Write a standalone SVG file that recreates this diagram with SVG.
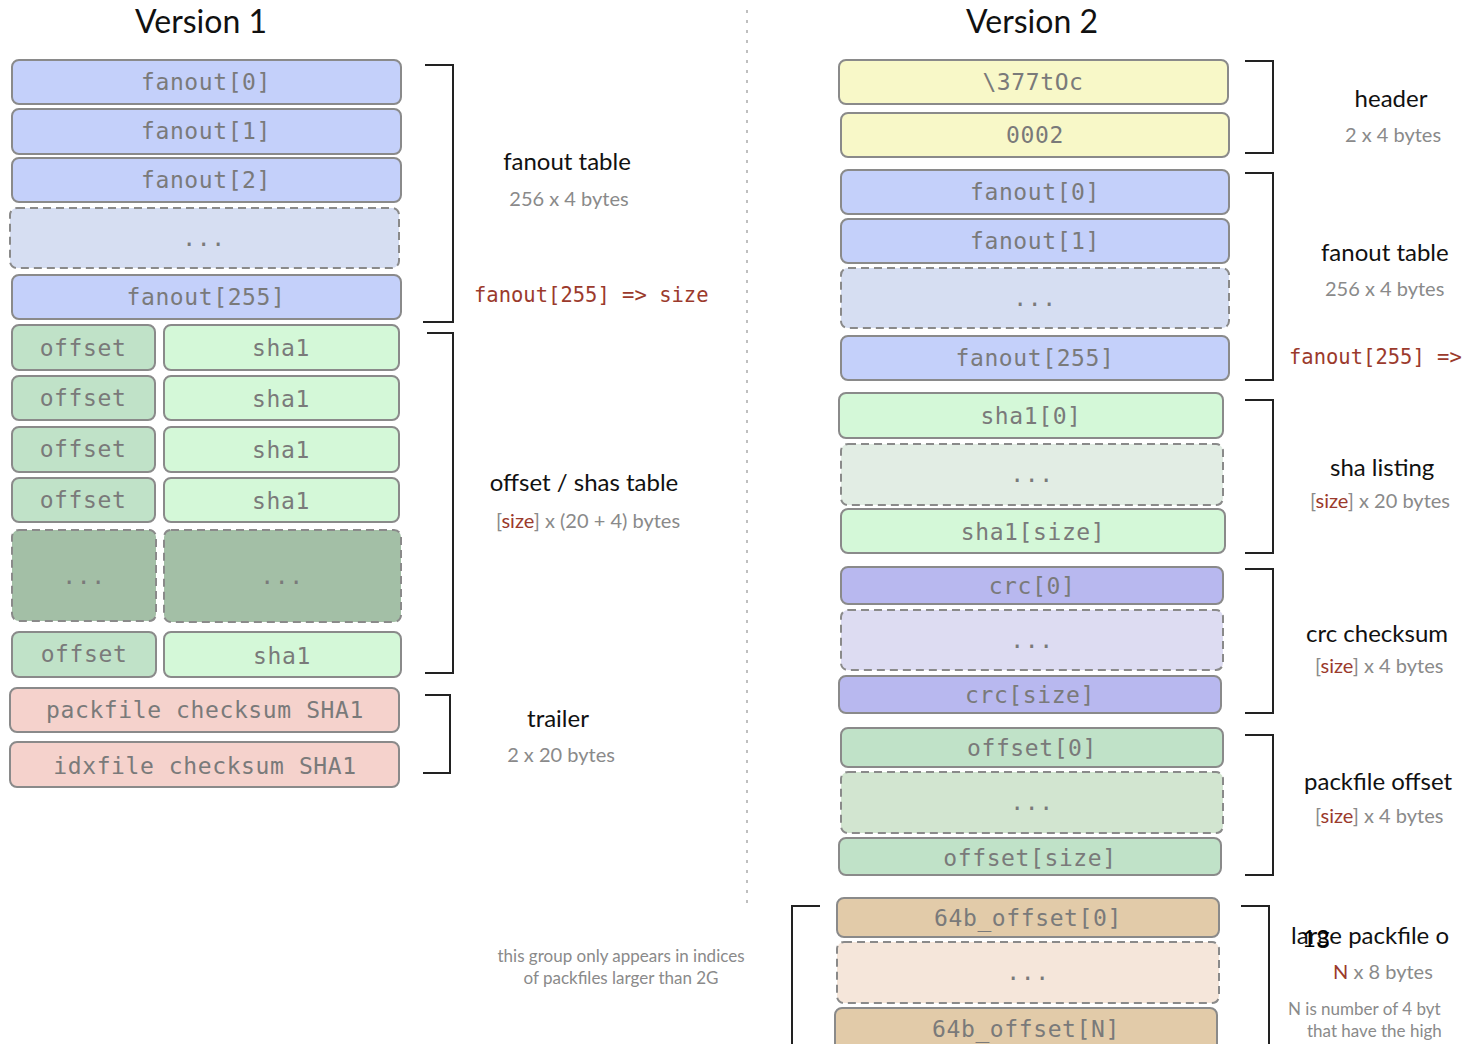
<svg xmlns="http://www.w3.org/2000/svg" width="1462" height="1044" viewBox="0 0 1462 1044">
<style>
.b{stroke:#8a8a8a;stroke-width:2}
.d{stroke-dasharray:8 5}
.m{font-family:"DejaVu Sans Mono","Liberation Mono",monospace;font-size:23px;fill:#7a7a7a;text-anchor:middle;letter-spacing:0.6px}
.t{font-family:Lato,"Open Sans",sans-serif;font-size:32px;fill:#111;text-anchor:middle}
.h{font-family:Lato,"Open Sans",sans-serif;font-size:24px;fill:#111}
.s{font-family:Lato,"Open Sans",sans-serif;font-size:20px;fill:#8a8a8a}
.n{font-family:Lato,"Open Sans",sans-serif;font-size:17px;fill:#8a8a8a}
.c{text-anchor:middle}
.r{fill:#9b3a2c}
.rm{font-family:"DejaVu Sans Mono","Liberation Mono",monospace;font-size:20.5px;fill:#9b3a2c}
.br{fill:none;stroke:#222;stroke-width:2}
.fb{fill:#c4d0fa}.fd{fill:#d6def2}
.og{fill:#c0e2c8}.sg{fill:#d4f8d8}.gd{fill:#a3bfa6}
.pk{fill:#f5d2cc}.yl{fill:#f8f8c8}
.sd{fill:#e2ede4}.cr{fill:#b8b8ef}.cd{fill:#dddcf2}
.od{fill:#d2e5d0}.tb{fill:#e2cba9}.td{fill:#f5e6da}
</style>

<text class="t" x="201" y="33">Version 1</text>
<text class="t" x="1032" y="33">Version 2</text>

<g id="v1-fanout0"><rect class="b fb" x="12" y="60" width="389" height="44" rx="7"/><text class="m" x="206" y="90">fanout[0]</text></g>
<g id="v1-fanout1"><rect class="b fb" x="12" y="109" width="389" height="45" rx="7"/><text class="m" x="206" y="139">fanout[1]</text></g>
<g id="v1-fanout2"><rect class="b fb" x="12" y="158" width="389" height="44" rx="7"/><text class="m" x="206" y="188">fanout[2]</text></g>
<g id="v1-fanout-dots"><rect class="b d fd" x="10" y="208" width="389" height="60" rx="7"/><text class="m" x="204" y="246">...</text></g>
<g id="v1-fanout255"><rect class="b fb" x="12" y="275" width="389" height="44" rx="7"/><text class="m" x="206" y="305">fanout[255]</text></g>

<g id="v1-offset1"><rect class="b og" x="12" y="325" width="143" height="45" rx="7"/><text class="m" x="83" y="356">offset</text></g>
<g id="v1-sha1-1"><rect class="b sg" x="164" y="325" width="235" height="45" rx="7"/><text class="m" x="281" y="356">sha1</text></g>
<g id="v1-offset2"><rect class="b og" x="12" y="376" width="143" height="44" rx="7"/><text class="m" x="83" y="406">offset</text></g>
<g id="v1-sha1-2"><rect class="b sg" x="164" y="376" width="235" height="44" rx="7"/><text class="m" x="281" y="407">sha1</text></g>
<g id="v1-offset3"><rect class="b og" x="12" y="427" width="143" height="45" rx="7"/><text class="m" x="83" y="457">offset</text></g>
<g id="v1-sha1-3"><rect class="b sg" x="164" y="427" width="235" height="45" rx="7"/><text class="m" x="281" y="458">sha1</text></g>
<g id="v1-offset4"><rect class="b og" x="12" y="478" width="143" height="44" rx="7"/><text class="m" x="83" y="508">offset</text></g>
<g id="v1-sha1-4"><rect class="b sg" x="164" y="478" width="235" height="44" rx="7"/><text class="m" x="281" y="509">sha1</text></g>
<g id="v1-offset-dots"><rect class="b d gd" x="12" y="530" width="144" height="91" rx="7"/><text class="m" x="84" y="584">...</text></g>
<g id="v1-sha1-dots"><rect class="b d gd" x="164" y="530" width="237" height="92" rx="7"/><text class="m" x="282" y="584">...</text></g>
<g id="v1-offset-last"><rect class="b og" x="12" y="632" width="144" height="45" rx="7"/><text class="m" x="84" y="662">offset</text></g>
<g id="v1-sha1-last"><rect class="b sg" x="164" y="632" width="237" height="45" rx="7"/><text class="m" x="282" y="664">sha1</text></g>

<g id="v1-packsum"><rect class="b pk" x="10" y="688" width="389" height="44" rx="7"/><text class="m" x="205" y="718">packfile checksum SHA1</text></g>
<g id="v1-idxsum"><rect class="b pk" x="10" y="742" width="389" height="45" rx="7"/><text class="m" x="205" y="774">idxfile checksum SHA1</text></g>

<g id="v1-labels">
<text class="h c" x="567" y="170">fanout table</text>
<text class="s c" x="569" y="206">256 x 4 bytes</text>
<text class="rm" x="474" y="302">fanout[255] =&gt; size</text>
<text class="h c" x="584" y="491">offset / shas table</text>
<text class="s c" x="588" y="528">[<tspan class="r">size</tspan>] x (20 + 4) bytes</text>
<text class="h c" x="558" y="727">trailer</text>
<text class="s c" x="561" y="762">2 x 20 bytes</text>
<text class="n c" x="621" y="962">this group only appears in indices</text>
<text class="n c" x="621" y="984">of packfiles larger than 2G</text>
</g>

<g id="v2-magic"><rect class="b yl" x="839" y="60" width="389" height="44" rx="7"/><text class="m" x="1033" y="90">\377tOc</text></g>
<g id="v2-version"><rect class="b yl" x="841" y="113" width="388" height="44" rx="7"/><text class="m" x="1035" y="143">0002</text></g>
<g id="v2-fanout0"><rect class="b fb" x="841" y="170" width="388" height="44" rx="7"/><text class="m" x="1035" y="200">fanout[0]</text></g>
<g id="v2-fanout1"><rect class="b fb" x="841" y="219" width="388" height="44" rx="7"/><text class="m" x="1035" y="249">fanout[1]</text></g>
<g id="v2-fanout-dots"><rect class="b d fd" x="841" y="268" width="388" height="60" rx="7"/><text class="m" x="1035" y="306">...</text></g>
<g id="v2-fanout255"><rect class="b fb" x="841" y="336" width="388" height="44" rx="7"/><text class="m" x="1035" y="366">fanout[255]</text></g>
<g id="v2-sha0"><rect class="b sg" x="839" y="393" width="384" height="45" rx="7"/><text class="m" x="1031" y="424">sha1[0]</text></g>
<g id="v2-sha-dots"><rect class="b d sd" x="841" y="444" width="382" height="61" rx="7"/><text class="m" x="1032" y="482">...</text></g>
<g id="v2-shaN"><rect class="b sg" x="841" y="509" width="384" height="44" rx="7"/><text class="m" x="1033" y="540">sha1[size]</text></g>
<g id="v2-crc0"><rect class="b cr" x="841" y="567" width="382" height="37" rx="7"/><text class="m" x="1032" y="594">crc[0]</text></g>
<g id="v2-crc-dots"><rect class="b d cd" x="841" y="610" width="382" height="60" rx="7"/><text class="m" x="1032" y="648">...</text></g>
<g id="v2-crcN"><rect class="b cr" x="839" y="676" width="382" height="37" rx="7"/><text class="m" x="1030" y="703">crc[size]</text></g>
<g id="v2-off0"><rect class="b og" x="841" y="728" width="382" height="39" rx="7"/><text class="m" x="1032" y="756">offset[0]</text></g>
<g id="v2-off-dots"><rect class="b d od" x="841" y="772" width="382" height="61" rx="7"/><text class="m" x="1032" y="810">...</text></g>
<g id="v2-offN"><rect class="b og" x="839" y="838" width="382" height="37" rx="7"/><text class="m" x="1030" y="866">offset[size]</text></g>
<g id="v2-64b0"><rect class="b tb" x="837" y="898" width="382" height="39" rx="7"/><text class="m" x="1028" y="926">64b_offset[0]</text></g>
<g id="v2-64b-dots"><rect class="b d td" x="837" y="942" width="382" height="61" rx="7"/><text class="m" x="1028" y="980">...</text></g>
<g id="v2-64bN"><rect class="b tb" x="835" y="1008" width="382" height="46" rx="7"/><text class="m" x="1026" y="1037">64b_offset[N]</text></g>

<g id="v2-labels">
<text class="h c" x="1391" y="107">header</text>
<text class="s c" x="1393" y="142">2 x 4 bytes</text>
<text class="h" x="1321" y="261">fanout table</text>
<text class="s" x="1325" y="296">256 x 4 bytes</text>
<text class="rm" x="1289" y="364">fanout[255] =&gt;</text>
<text class="h" x="1330" y="476">sha listing</text>
<text class="s" x="1310" y="508">[<tspan class="r">size</tspan>] x 20 bytes</text>
<text class="h" x="1306" y="642">crc checksum</text>
<text class="s" x="1315" y="673">[<tspan class="r">size</tspan>] x 4 bytes</text>
<text class="h" x="1304" y="790">packfile offset</text>
<text class="s" x="1315" y="823">[<tspan class="r">size</tspan>] x 4 bytes</text>
<text class="h" x="1291" y="944">large packfile o</text>
<text class="h" x="1302" y="947" style="fill:#000">13</text>
<text class="s" x="1333" y="979"><tspan class="r">N</tspan> x 8 bytes</text>
<text class="n" x="1288" y="1015">N is number of 4 byt</text>
<text class="n" x="1307" y="1037">that have the high</text>
</g>

<g id="connectors">
<line x1="747" y1="10" x2="747" y2="905" stroke="#aaa" stroke-width="1.5" stroke-dasharray="3 7"/>
<path class="br" d="M425 65H453V322H423"/>
<path class="br" d="M427 333H453V673H425"/>
<path class="br" d="M425 695H450V773H423"/>
<path class="br" d="M1245 61H1273V153H1245"/>
<path class="br" d="M1245 173H1273V380H1245"/>
<path class="br" d="M1245 400H1273V553H1245"/>
<path class="br" d="M1245 569H1273V713H1245"/>
<path class="br" d="M1245 735H1273V875H1245"/>
<path class="br" d="M1241 906H1269V1050"/>
<path class="br" d="M820 906H792V1050" stroke="#555"/>
</g>
</svg>
